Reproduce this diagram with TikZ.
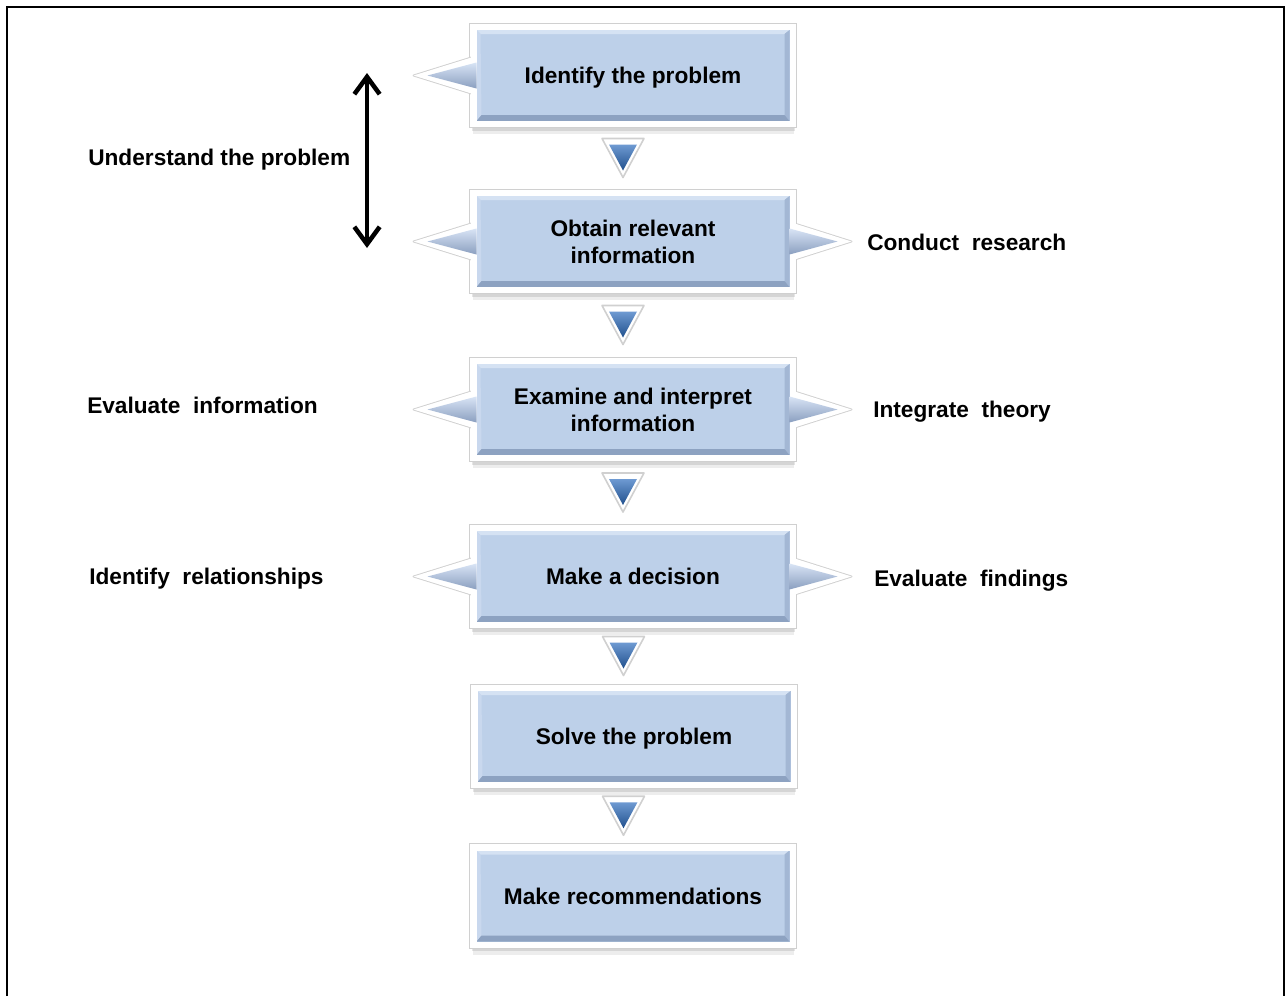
\documentclass[tikz,border=0pt]{standalone}
\usepackage{fontspec}
\setmainfont{Liberation Sans}
\usetikzlibrary{arrows.meta,calc,backgrounds,positioning}

\definecolor{boxblue}{HTML}{BDD0E9}
\definecolor{bevtop}{HTML}{D5E2F3}
\definecolor{bevleft}{HTML}{C9D8EE}
\definecolor{bevright}{HTML}{A3B7D4}
\definecolor{bevbottom}{HTML}{8DA2C1}
\definecolor{ptrtop}{HTML}{D8E4F5}
\definecolor{ptrbot}{HTML}{8A9FC0}
\definecolor{arrtop}{HTML}{6E9AD2}
\definecolor{arrbot}{HTML}{21508D}
\definecolor{rim}{HTML}{D0D0D0}

\newcommand{\steptext}{\fontsize{17}{20.25}\selectfont\bfseries}

\tikzset{
  stepbox/.style={rectangle, draw=white, line width=4.5pt, fill=boxblue,
    minimum width=239.25pt, minimum height=72.75pt, align=center, font=\steptext,
    text depth=0pt,
    path picture={
      \coordinate (bsw) at ($(path picture bounding box.south west)+(3,-3)$);
      \coordinate (bse) at ($(path picture bounding box.south east)+(-3,-3)$);
      \coordinate (bne) at ($(path picture bounding box.north east)+(-3,3)$);
      \coordinate (bnw) at ($(path picture bounding box.north west)+(3,3)$);
      \fill[bevtop] (bnw) -- (bne) -- ($(bne)+(-5,4)$) -- ($(bnw)+(4,4)$) -- cycle;
      \fill[bevleft] (bnw) -- (bsw) -- ($(bsw)+(5,-6)$) -- ($(bnw)+(4,4)$) -- cycle;
      \fill[bevright] (bse) -- (bne) -- ($(bne)+(-5,4)$) -- ($(bse)+(-5,-6)$) -- cycle;
      \fill[bevbottom] (bsw) -- (bse) -- ($(bse)+(-5,-6)$) -- ($(bsw)+(5,-6)$) -- cycle;
    }},
  sidelabel/.style={anchor=west, inner sep=0pt, font=\steptext, text depth=0pt},
  rimline/.style={draw=rim, line width=1.4pt, line join=round},
  pointer/.style={fill=white, line join=round},
  barb/.tip={Straight Barb[length=13pt,width=19pt,line width=3.4pt]},
}

\begin{document}
\begin{tikzpicture}[x=0.75pt, y=-0.75pt]
\useasboundingbox (0,0) rectangle (1285,996);
% frame
\draw[line width=1.5pt] (7,996) -- (7,7) -- (1283.5,7) -- (1283.5,996);

% steps
\node[stepbox] (b1) at (633,75.5) {Identify the problem};
\node[stepbox] (b2) at (633,241.5) {Obtain relevant\\information};
\node[stepbox] (b3) at (633,409.5) {Examine and interpret\\information};
\node[stepbox] (b4) at (633,576.5) {Make a decision};
\node[stepbox] (b5) at (634,736.5) {Solve the problem};
\node[stepbox] (b6) at (633,896) {Make recommendations};

% shadows and rims
\begin{pgfonlayer}{background}
\foreach \b in {b1,b2,b3,b4,b5,b6}{
  \fill[black, opacity=.07] ($(\b.south west)+(2,7)$) rectangle ($(\b.north east)+(-2,7)$);
  \fill[black, opacity=.10] ($(\b.south west)+(1,3.5)$) rectangle ($(\b.north east)+(-1,3.5)$);
}
\foreach \b in {b1,b2,b3,b4}
  \draw[rimline] ($(\b.west)+(4,-19)$) -- ($(\b.west)+(-57,0)$) -- ($(\b.west)+(4,19)$);
\foreach \b in {b2,b3,b4}
  \draw[rimline] ($(\b.east)+(-4,-19)$) -- ($(\b.east)+(56,0)$) -- ($(\b.east)+(-4,19)$);
\end{pgfonlayer}
\foreach \b in {b1,b2,b3,b4,b5,b6}
  \draw[draw=rim, line width=0.8pt] ($(\b.south west)+(-0.6,0.6)$) rectangle ($(\b.north east)+(0.6,-0.6)$);

% side pointers
\foreach \b in {b1,b2,b3,b4}{
  \fill[pointer] ($(\b.west)+(4,-19)$) -- ($(\b.west)+(-57,0)$) -- ($(\b.west)+(4,19)$) -- cycle;
  \shade[top color=ptrtop, bottom color=ptrbot] ($(\b.west)+(6,-13)$) -- ($(\b.west)+(-43,0)$) -- ($(\b.west)+(6,13)$) -- cycle;
}
\foreach \b in {b2,b3,b4}{
  \fill[pointer] ($(\b.east)+(-4,-19)$) -- ($(\b.east)+(56,0)$) -- ($(\b.east)+(-4,19)$) -- cycle;
  \shade[top color=ptrtop, bottom color=ptrbot] ($(\b.east)+(-6,-13)$) -- ($(\b.east)+(42,0)$) -- ($(\b.east)+(-6,13)$) -- cycle;
}

% down arrows
\foreach \a/\b in {b1/b2,b2/b3,b3/b4,b4/b5,b5/b6}{
  \coordinate (mid) at ($(\a.south)!0.5!(\b.north)+(-10,0)$);
  \filldraw[pointer, draw=rim, line width=1.2pt] ($(mid)+(-21,-20)$) -- ($(mid)+(21,-20)$) -- ($(mid)+(0,19)$) -- cycle;
  \shade[top color=arrtop, bottom color=arrbot] ($(mid)+(-14,-14)$) -- ($(mid)+(14,-14)$) -- ($(mid)+(0,12)$) -- cycle;
}

% understand arrow
\coordinate (uptip) at (367,73);
\coordinate (dntip) at (367,248);
\draw[barb-barb, line width=3pt] (uptip) -- (dntip);

% side labels
\node[sidelabel] (und) at (88,157) {Understand the problem};
\node[sidelabel] (res) at (867,242) {Conduct\ \ research};
\node[sidelabel] (evi) at (87,405) {Evaluate\ \ information};
\node[sidelabel] (thy) at (873,409) {Integrate\ \ theory};
\node[sidelabel] (rel) at (89,576) {Identify\ \ relationships};
\node[sidelabel] (fnd) at (874,578) {Evaluate\ \ findings};
\end{tikzpicture}
\end{document}
